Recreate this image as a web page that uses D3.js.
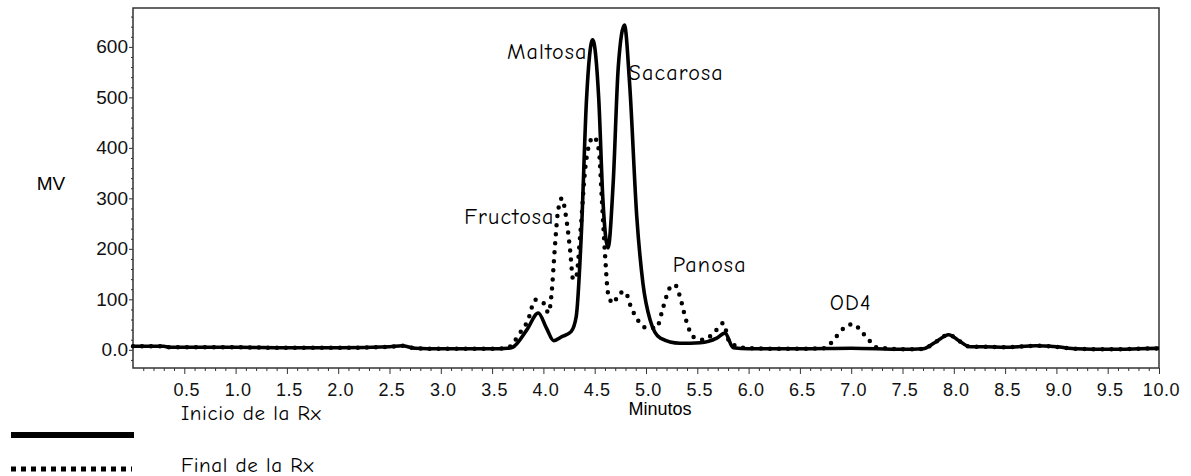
<!DOCTYPE html>
<html>
<head>
<meta charset="utf-8">
<script src="https://cdn.jsdelivr.net/npm/d3@7"></script>
<style>
  body { margin: 0; background: #fff; }
  svg { display: block; }
</style>
</head>
<body>
<div id="chart"></div>
<script>
// chromatogram values (minutes, mV)
var inicioT = [0, 0.3, 0.35, 1.0, 1.5, 2.0, 2.5, 2.62, 2.75, 3.0, 3.5, 3.65, 3.70, 3.84, 3.95, 4.03, 4.10, 4.18, 4.27, 4.32, 4.37, 4.42, 4.48, 4.54, 4.58, 4.63, 4.68, 4.73, 4.79, 4.84, 4.91, 4.97, 5.04, 5.14, 5.33, 5.53, 5.69, 5.77, 5.85, 6.0, 6.5, 7.0, 7.5, 7.70, 7.82, 7.95, 8.05, 8.16, 8.3, 8.5, 8.8, 9.0, 9.2, 9.5, 9.8, 10.0];
var inicioV = [7, 7, 5, 5, 4, 4, 6, 8, 3, 2, 2, 3, 5, 40, 73, 43, 18, 26, 36, 66, 231, 495, 614, 495, 297, 202, 330, 561, 643, 528, 264, 132, 59, 23, 13, 14, 23, 33, 4, 2, 2, 3, 1, 2, 15, 30, 18, 6, 6, 5, 8, 6, 2, 1, 2, 3];

var finalT = [0, 0.3, 0.35, 1.0, 1.5, 2.0, 2.5, 2.62, 2.75, 3.0, 3.5, 3.65, 3.77, 3.85, 3.92, 4.00, 4.05, 4.08, 4.11, 4.14, 4.18, 4.22, 4.26, 4.29, 4.32, 4.36, 4.41, 4.45, 4.49, 4.54, 4.57, 4.60, 4.63, 4.68, 4.74, 4.80, 4.84, 4.93, 5.01, 5.10, 5.17, 5.23, 5.28, 5.33, 5.39, 5.46, 5.56, 5.66, 5.75, 5.82, 6.0, 6.5, 6.73, 6.80, 6.87, 6.94, 7.02, 7.10, 7.17, 7.24, 7.4, 7.5, 7.70, 7.82, 7.95, 8.05, 8.16, 8.3, 8.5, 8.8, 9.0, 9.2, 9.5, 9.8, 10.0];
var finalV = [7, 7, 5, 5, 4, 4, 6, 8, 3, 2, 2, 4, 33, 59, 99, 93, 73, 112, 198, 271, 300, 264, 198, 139, 145, 231, 363, 409, 422, 396, 297, 191, 112, 92, 112, 115, 92, 56, 43, 43, 86, 122, 129, 106, 59, 26, 20, 33, 53, 13, 3, 2, 3, 13, 30, 45, 51, 36, 20, 5, 2, 1, 2, 15, 30, 18, 6, 6, 5, 8, 6, 2, 1, 2, 3];

var yMajorTicks = [0, 100, 200, 300, 400, 500, 600];
var xMajorTicks = [0.5, 1.0, 1.5, 2.0, 2.5, 3.0, 3.5, 4.0, 4.5, 5.0, 5.5, 6.0, 6.5, 7.0, 7.5, 8.0, 8.5, 9.0, 9.5, 10.0];

var peakNames = ["Maltosa", "Sacarosa", "Fructosa", "Panosa", "OD4"];
var peakT = [4.43, 4.83, 4.11, 5.26, 6.79];
var peakV = [576, 535, 250, 154, 79];
var peakAnchor = ["end", "start", "end", "start", "start"];

var legendLabels = ["Inicio de la Rx", "Final de la Rx"];

var width = 1191, height = 476;
var margin = { top: 8, right: 32, bottom: 108, left: 133 };

var svg = d3.select("#chart").append("svg")
    .attr("width", width)
    .attr("height", height);

var x = d3.scaleLinear().domain([0, 10]).range([margin.left, width - margin.right]);
var y = d3.scaleLinear().domain([-36, 677]).range([height - margin.bottom, margin.top]);

var tickFont = "'Liberation Sans', Arial, sans-serif";
var handFont = "'Comic Sans MS', 'Comic Neue', 'DejaVu Sans', sans-serif";

// minor ticks first
var yMinor = d3.range(-20, 661, 20).filter(d => d % 100 !== 0);
svg.append("g")
    .attr("transform", "translate(" + margin.left + ",0)")
    .call(d3.axisLeft(y).tickValues(yMinor).tickSize(2).tickFormat(""))
    .call(g => g.select(".domain").remove());

var xMinor = d3.range(0.1, 10, 0.1).filter(d => Math.abs(d * 2 - Math.round(d * 2)) > 0.01);
svg.append("g")
    .attr("transform", "translate(0," + (height - margin.bottom) + ")")
    .call(d3.axisBottom(x).tickValues(xMinor).tickSize(3).tickFormat(""))
    .call(g => g.select(".domain").remove());

// major axes
svg.append("g")
    .attr("class", "y-axis")
    .attr("transform", "translate(" + margin.left + ",0)")
    .call(d3.axisLeft(y).tickValues(yMajorTicks).tickSize(4).tickPadding(1)
        .tickFormat(d => d === 0 ? "0.0" : d))
    .call(g => g.select(".domain").remove())
    .selectAll("text")
    .style("font-family", tickFont)
    .style("font-size", "19px")
    .style("fill", "#111");

svg.append("g")
    .attr("class", "x-axis")
    .attr("transform", "translate(0," + (height - margin.bottom) + ")")
    .call(d3.axisBottom(x).tickValues(xMajorTicks).tickSize(6).tickPadding(9)
        .tickFormat(d3.format(".1f")))
    .call(g => g.select(".domain").remove())
    .selectAll("text")
    .attr("dx", 2)
    .style("font-family", tickFont)
    .style("font-size", "18px")
    .style("letter-spacing", "0.6px")
    .style("fill", "#111");

svg.selectAll(".tick line").attr("stroke", "#333");

// frame
svg.append("rect")
    .attr("x", x(0))
    .attr("y", y(677))
    .attr("width", x(10) - x(0))
    .attr("height", y(-36) - y(677))
    .attr("fill", "none")
    .attr("stroke", "#333")
    .attr("stroke-width", 1.5);

var line = d3.line()
    .x(d => x(d[0]))
    .y(d => y(d[1]))
    .curve(d3.curveMonotoneX);

svg.append("path")
    .datum(d3.zip(finalT, finalV))
    .attr("d", line)
    .attr("fill", "none")
    .attr("stroke", "#000")
    .attr("stroke-width", 4.5)
    .attr("stroke-linecap", "round")
    .attr("stroke-dasharray", "0,9");

svg.append("path")
    .datum(d3.zip(inicioT, inicioV))
    .attr("d", line)
    .attr("fill", "none")
    .attr("stroke", "#000")
    .attr("stroke-width", 3.6)
    .attr("stroke-linejoin", "round");

// peak names
svg.selectAll(".peak-label")
    .data(peakNames)
    .enter()
    .append("text")
    .attr("class", "peak-label")
    .attr("x", (d, i) => x(peakT[i]))
    .attr("y", (d, i) => y(peakV[i]))
    .attr("text-anchor", (d, i) => peakAnchor[i])
    .style("font-family", handFont)
    .style("font-size", "22px")
    .style("letter-spacing", "1.2px")
    .text(d => d);

// axis titles
svg.append("text")
    .attr("x", 51)
    .attr("y", 190)
    .attr("text-anchor", "middle")
    .style("font-family", tickFont)
    .style("font-size", "19px")
    .text("MV");

svg.append("text")
    .attr("x", 660)
    .attr("y", 415)
    .attr("text-anchor", "middle")
    .style("font-family", tickFont)
    .style("font-size", "18px")
    .text("Minutos");

// legend
svg.append("line")
    .attr("x1", 11).attr("x2", 134)
    .attr("y1", 435).attr("y2", 435)
    .attr("stroke", "#000")
    .attr("stroke-width", 6);

svg.append("line")
    .attr("x1", 11).attr("x2", 132)
    .attr("y1", 469).attr("y2", 469)
    .attr("stroke", "#000")
    .attr("stroke-width", 5)
    .attr("stroke-dasharray", "5,5");

svg.selectAll(".legend-label")
    .data(legendLabels)
    .enter()
    .append("text")
    .attr("class", "legend-label")
    .attr("x", 181)
    .attr("y", (d, i) => 420 + i * 52)
    .style("font-family", handFont)
    .style("font-size", "21px")
    .style("letter-spacing", "0.6px")
    .text(d => d);
</script>
</body>
</html>
